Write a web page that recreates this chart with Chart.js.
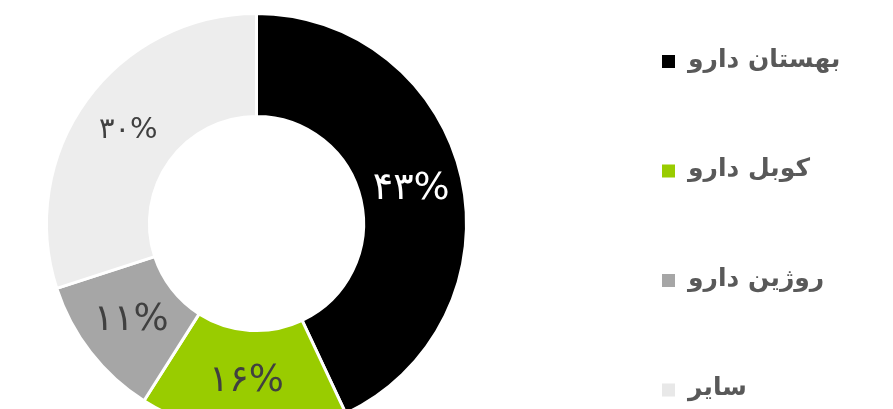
<!DOCTYPE html>
<html>
<head>
<meta charset="utf-8">
<script src="https://cdn.jsdelivr.net/npm/chart.js@4/dist/chart.umd.min.js"></script>
<style>
    html, body { margin: 0; padding: 0; background: #fff; overflow: hidden; }
    #wrap { position: absolute; left: 0; top: 0; width: 893px; height: 440px; }
</style>
</head>
<body>
<div id="wrap"><canvas id="pieChart"></canvas></div>
<script>
    var labels = ['بهستان دارو', 'کوبل دارو', 'روژین دارو', 'سایر'];
    var values = [43, 16, 11, 30];
    var valueLabels = ['۴۳%', '۱۶%', '۱۱%', '۳۰%'];
    var colors = ['#000000', '#99CC00', '#A6A6A6', '#EDEDED'];
    var legendColors = ['#000000', '#99CC00', '#A6A6A6', '#E8E8E8'];

    // style per slice label
    var labelStyle = [
        {color: '#FFFFFF', size: 38},
        {color: '#404040', size: 37},
        {color: '#404040', size: 37},
        {color: '#404040', size: 29}
    ];

    var sliceLabels = {
        id: 'sliceLabels',
        afterDatasetsDraw: function(chart){
            var ctx = chart.ctx;
            var meta = chart.getDatasetMeta(0);
            ctx.save();
            ctx.textAlign = 'center';
            ctx.textBaseline = 'middle';
            meta.data.forEach(function(arc, i){
                var p = arc.tooltipPosition();
                ctx.fillStyle = labelStyle[i].color;
                ctx.font = labelStyle[i].size + 'px "DejaVu Sans"';
                ctx.fillText(valueLabels[i], p.x, p.y);
            });
            ctx.restore();
        }
    };

    var sideLegend = {
        id: 'sideLegend',
        afterDraw: function(chart){
            var ctx = chart.ctx;
            ctx.save();
            ctx.textBaseline = 'middle';
            ctx.textAlign = 'left';
            ctx.font = 'bold 25px "DejaVu Sans"';
            for(var i = 0; i < labels.length; i++){
                var y = 60 + i * 109.5;
                ctx.fillStyle = legendColors[i];
                ctx.fillRect(662, y - 5, 13, 13);
                ctx.fillStyle = '#595959';
                ctx.fillText(labels[i], 688, y);
            }
            ctx.restore();
        }
    };

    var CHART = document.getElementById('pieChart');
    var pieChart = new Chart(CHART, {
        type: 'doughnut',
        data: {
            labels: labels,
            datasets: [{
                data: values,
                backgroundColor: colors,
                borderColor: '#FFFFFF',
                borderWidth: 3
            }]
        },
        options: {
            responsive: true,
            maintainAspectRatio: false,
            animation: false,
            cutout: '51%',
            layout: { padding: { left: 45, top: 12, right: 425, bottom: 5 } },
            plugins: {
                legend: { display: false },
                tooltip: { enabled: false }
            }
        },
        plugins: [sliceLabels, sideLegend]
    });
</script>
</body>
</html>
